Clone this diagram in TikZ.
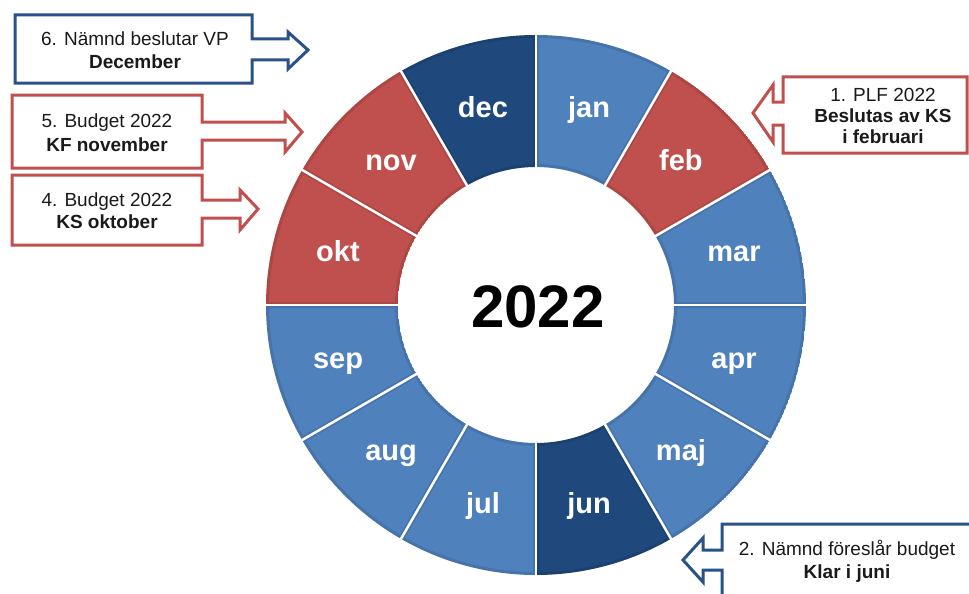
\documentclass[tikz,border=0pt]{standalone}
\usepackage{fontspec}
\setmainfont{Liberation Sans}
\definecolor{mblue}{HTML}{4F81BD}
\definecolor{mred}{HTML}{C0504D}
\definecolor{mdark}{HTML}{1F497D}
\definecolor{cblue}{HTML}{2A5288}
\definecolor{cred}{HTML}{C0504D}
\definecolor{ctext}{HTML}{1A1A1A}
\begin{document}
\begin{tikzpicture}[x=1pt,y=1pt,
  month/.style={text=white, font=\fontsize{29}{30}\selectfont\bfseries, text height=0.72em, text depth=0.21em, inner sep=0, yshift=-7.5},
  calltext/.style={text=ctext, font=\fontsize{19}{22}\selectfont, align=center, inner sep=0},
  callblue/.style={draw=cblue, line width=3, fill=white},
  callred/.style={draw=cred, line width=3, fill=white},
  seplines/.style={draw=white, line width=2.5}
]
\useasboundingbox (0,0) rectangle (969,-594);
\fill[white] (0,0) rectangle (969,-594);
\clip (0,0) rectangle (969,-594);
\coordinate (c) at (536,-305);

\foreach \i/\name/\col in {0/jan/mblue,1/feb/mred,2/mar/mblue,3/apr/mblue,4/maj/mblue,5/jun/mdark,6/jul/mblue,7/aug/mblue,8/sep/mblue,9/okt/mred,10/nov/mred,11/dec/mdark}{
  \pgfmathsetmacro\aa{90-30*\i}
  \pgfmathsetmacro\ab{60-30*\i}
  \pgfmathsetmacro\am{75-30*\i}
  \begin{scope}
    \clip ([shift={(\aa:270)}]c) arc[start angle=\aa, end angle=\ab, radius=270] -- ([shift={(\ab:138)}]c) arc[start angle=\ab, end angle=\aa, radius=138] -- cycle;
    \fill[\col] ([shift={(\aa:270)}]c) arc[start angle=\aa, end angle=\ab, radius=270] -- ([shift={(\ab:138)}]c) arc[start angle=\ab, end angle=\aa, radius=138] -- cycle;
    \draw[black, opacity=0.10, line width=6] ([shift={(\aa:270)}]c) arc[start angle=\aa, end angle=\ab, radius=270] -- ([shift={(\ab:138)}]c) arc[start angle=\ab, end angle=\aa, radius=138] -- cycle;
  \end{scope}
  \node[month] (m-\name) at ([shift={(\am:205)}]c) {\name};
}
\foreach \k in {0,...,11}{
  \pgfmathsetmacro\ak{90-30*\k}
  \draw[seplines] ([shift={(\ak:130)}]c) -- ([shift={(\ak:280)}]c);
}

\node[text=black, font=\fontsize{60}{60}\selectfont\bfseries, inner sep=0] (yr) at (538,-307) {2022};

% callout 6
\draw[callblue] (15,-15) -- (252,-15) -- (252,-39) -- (288,-39) -- (288,-32) -- (308,-50) -- (288,-69) -- (288,-60) -- (252,-60) -- (252,-83) -- (15,-83) -- cycle;
\node[calltext, font=\fontsize{19}{23}\selectfont] (t6) at (135,-50) {6. Nämnd beslutar VP\\\textbf{December}};
% callout 5
\draw[callred] (12,-95) -- (202,-95) -- (202,-122) -- (285,-122) -- (285,-113) -- (302,-132) -- (285,-152) -- (285,-140) -- (202,-140) -- (202,-168) -- (12,-168) -- cycle;
\node[calltext, font=\fontsize{19}{24}\selectfont] (t5) at (107,-133) {5. Budget 2022\\\textbf{KF november}};
% callout 4
\draw[callred] (12,-175) -- (202,-175) -- (202,-200) -- (240,-200) -- (240,-190) -- (258,-209) -- (240,-230) -- (240,-218) -- (202,-218) -- (202,-245) -- (12,-245) -- cycle;
\node[calltext] (t4) at (107,-210.5) {4. Budget 2022\\\textbf{KS oktober}};
% callout 1
\draw[callred] (967,-77) -- (783,-77) -- (783,-102) -- (773,-102) -- (773,-85) -- (753,-113) -- (773,-142) -- (773,-125) -- (783,-125) -- (783,-153) -- (967,-153) -- cycle;
\node[calltext, font=\fontsize{19}{21}\selectfont] (t1) at (883,-115.5) {1. PLF 2022\\\textbf{Beslutas av KS}\\\textbf{i februari}};
% callout 2
\draw[callblue] (980,-524) -- (722,-524) -- (722,-550) -- (703,-550) -- (703,-538) -- (683,-560) -- (703,-582) -- (703,-570) -- (722,-570) -- (722,-610) -- (980,-610);
\node[calltext, font=\fontsize{19}{23}\selectfont] (t2) at (847,-561.5) {2. Nämnd föreslår budget\\\textbf{Klar i juni}};
\end{tikzpicture}
\end{document}
